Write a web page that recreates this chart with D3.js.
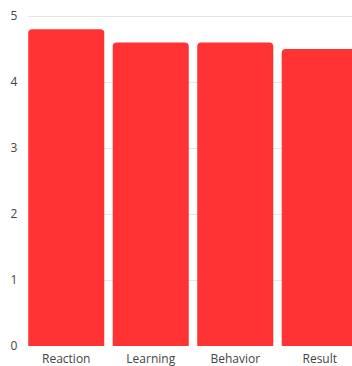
<!DOCTYPE html>
<html>
<head>
<meta charset="utf-8">
<script src="https://cdn.jsdelivr.net/npm/d3@7.9.0/dist/d3.min.js"></script>
<style>
  html, body { margin: 0; padding: 0; background: #fff; overflow: hidden; }
  text { font-family: "Open Sans", sans-serif; }
</style>
</head>
<body>
<div id="chart"></div>
<script>
// ---- data ----
const categories = ['Reaction', 'Learning', 'Behavior', 'Result'];
const scores = [4.8, 4.6, 4.6, 4.5];
const yTicks = [0, 1, 2, 3, 4, 5];

const width = 352, height = 366;
const margin = { top: 16, left: 24, bottom: 20 };

const svg = d3.select('#chart').append('svg')
  .attr('width', width)
  .attr('height', height);

// plot runs past the right edge (cropped in the original)
const x = d3.scaleBand()
  .domain(categories)
  .range([margin.left, 362])
  .paddingInner(0.1)
  .paddingOuter(0.05);

const y = d3.scaleLinear()
  .domain([0, 5])
  .range([height - margin.bottom, margin.top]);

// gridlines
svg.append('g')
  .selectAll('line')
  .data(yTicks.filter(d => d > 0))
  .join('line')
  .attr('x1', 28)
  .attr('x2', width)
  .attr('y1', d => Math.round(y(d)) + 0.5)
  .attr('y2', d => Math.round(y(d)) + 0.5)
  .attr('stroke', '#e6e6e6')
  .attr('stroke-width', 1);

// y labels
svg.append('g')
  .selectAll('text')
  .data(yTicks)
  .join('text')
  .attr('x', 14)
  .attr('y', d => y(d))
  .attr('dy', '0.35em')
  .attr('text-anchor', 'middle')
  .attr('font-size', 12)
  .attr('fill', '#444')
  .text(d => d);

// bars with rounded tops
function barPath(x0, y0, w, h, r) {
  return `M${x0},${y0 + h}V${y0 + r}Q${x0},${y0} ${x0 + r},${y0}` +
    `H${x0 + w - r}Q${x0 + w},${y0} ${x0 + w},${y0 + r}V${y0 + h}Z`;
}

svg.append('g')
  .selectAll('path')
  .data(categories)
  .join('path')
  .attr('fill', '#ff3333')
  .attr('d', (c, i) => {
    const top = y(scores[i]);
    return barPath(x(c), top, x.bandwidth(), y(0) - top, 4);
  });

// x labels
svg.append('g')
  .selectAll('text')
  .data(categories)
  .join('text')
  .attr('x', c => x(c) + x.bandwidth() / 2)
  .attr('y', height - 3)
  .attr('text-anchor', 'middle')
  .attr('font-size', 12)
  .attr('fill', '#444')
  .text(c => c);
</script>
</body>
</html>
